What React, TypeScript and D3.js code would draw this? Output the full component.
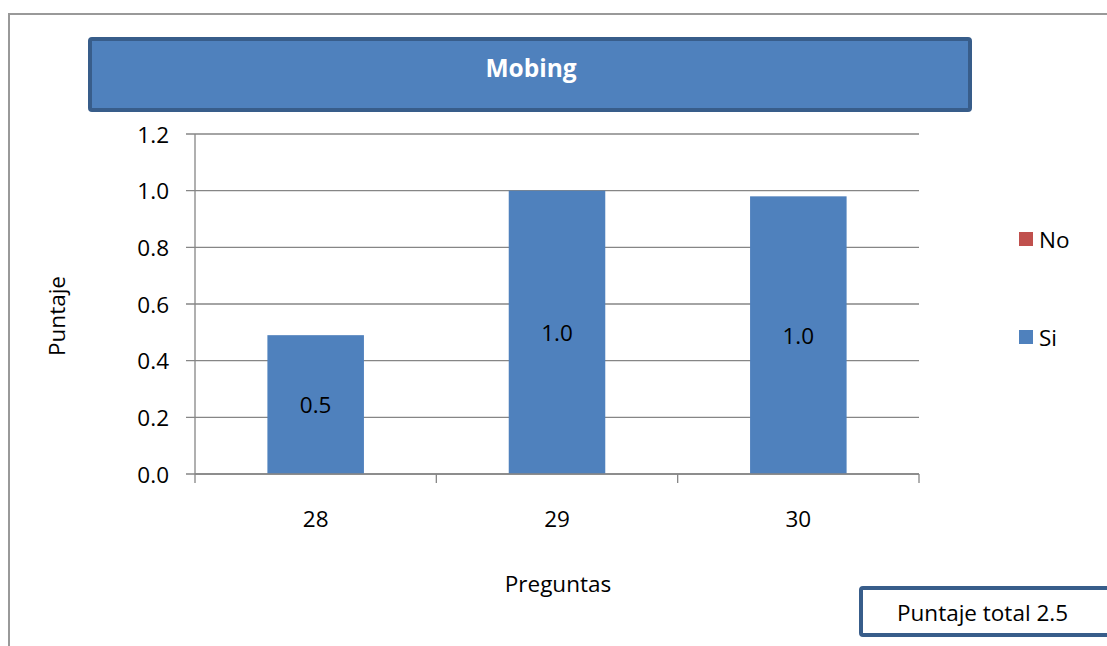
import React from "react";
import * as d3 from "d3";

// Chart data
const categories: string[] = ["28", "29", "30"];
const siValues: number[] = [0.49, 1.0, 0.98];
const noValues: number[] = [0, 0, 0];
const yTicks: number[] = [0, 0.2, 0.4, 0.6, 0.8, 1.0, 1.2];
const legendItems: { name: string; color: string }[] = [
  { name: "No", color: "#C0504D" },
  { name: "Si", color: "#4F81BD" },
];
const chartTitle = "Mobing";
const xTitle = "Preguntas";
const yTitle = "Puntaje";

const W = 1107;
const H = 646;
const FONT = "'Open Sans', Lato, sans-serif";
const FS = 22.5;

const plot = { left: 195, right: 919, top: 134, bottom: 474 };

export default function App() {
  const x = d3
    .scaleBand<string>()
    .domain(categories)
    .range([plot.left, plot.right])
    .paddingInner(0.6)
    .paddingOuter(0.3);
  const y = d3.scaleLinear().domain([0, 1.2]).range([plot.bottom, plot.top]);
  const fmt = d3.format(".1f");
  const total = d3.sum(siValues) + d3.sum(noValues);
  const step = (plot.right - plot.left) / categories.length;
  const boundaries = d3.range(categories.length + 1).map((i) => plot.left + i * step);
  const gridColor = "#868686";

  return (
    <svg
      width={W}
      height={H}
      style={{ position: "absolute", left: 0, top: 0, background: "#fff" }}
      fontFamily={FONT}
    >
      {/* outer chart frame */}
      <rect x={9} y={14} width={W + 20} height={H + 20} fill="#fff" stroke="#999" strokeWidth={2} />

      {/* title box */}
      <rect x={90} y={39} width={880} height={71} rx={2} fill="#4F81BD" stroke="#385D8A" strokeWidth={4} />
      <text x={531} y={67} textAnchor="middle" dominantBaseline="central" fill="#fff" fontWeight="bold" fontSize={24.5}>
        {chartTitle}
      </text>

      {/* gridlines and y ticks */}
      {yTicks.map((t) => (
        <g key={t}>
          <line x1={186} x2={plot.right} y1={y(t)} y2={y(t)} stroke={gridColor} strokeWidth={1.3} />
          <text x={169} y={y(t)} textAnchor="end" dominantBaseline="central" fontSize={FS} fill="#000">
            {fmt(t)}
          </text>
        </g>
      ))}
      {/* y axis */}
      <line x1={plot.left} x2={plot.left} y1={plot.top} y2={plot.bottom} stroke={gridColor} strokeWidth={1.3} />
      {/* x tick marks */}
      {boundaries.map((b, i) => (
        <line key={i} x1={b} x2={b} y1={plot.bottom} y2={plot.bottom + 9} stroke={gridColor} strokeWidth={1.3} />
      ))}

      {/* bars */}
      {categories.map((c, i) => (
        <g key={c}>
          <rect
            x={x(c)}
            y={y(siValues[i])}
            width={x.bandwidth()}
            height={plot.bottom - y(siValues[i])}
            fill="#4F81BD"
          />
          <text
            x={(x(c) as number) + x.bandwidth() / 2}
            y={(y(siValues[i]) + plot.bottom) / 2}
            textAnchor="middle"
            dominantBaseline="central"
            fontSize={FS}
            fill="#000"
          >
            {fmt(siValues[i])}
          </text>
          <text
            x={(x(c) as number) + x.bandwidth() / 2}
            y={518}
            textAnchor="middle"
            dominantBaseline="central"
            fontSize={FS}
            fill="#000"
          >
            {c}
          </text>
        </g>
      ))}
      {/* x axis line */}
      <line x1={plot.left} x2={plot.right} y1={plot.bottom} y2={plot.bottom} stroke={gridColor} strokeWidth={1.3} />

      {/* axis titles */}
      <text x={558} y={583} textAnchor="middle" dominantBaseline="central" fontSize={FS} fill="#000">
        {xTitle}
      </text>
      <text
        transform={`translate(56,316) rotate(-90)`}
        textAnchor="middle"
        dominantBaseline="central"
        fontSize={FS}
        fill="#000"
      >
        {yTitle}
      </text>

      {/* legend */}
      {legendItems.map((item, i) => (
        <g key={item.name} transform={`translate(1019,${239 + i * 98})`}>
          <rect x={0} y={-7} width={14} height={14} fill={item.color} />
          <text x={20} y={0} dominantBaseline="central" fontSize={FS} fill="#000">
            {item.name}
          </text>
        </g>
      ))}

      {/* total score box */}
      <rect x={861} y={588} width={280} height={47} rx={2} fill="#fff" stroke="#385D8A" strokeWidth={4} />
      <text x={897} y={612} dominantBaseline="central" fontSize={FS} fill="#000">
        {`Puntaje total ${fmt(total)}`}
      </text>
    </svg>
  );
}
